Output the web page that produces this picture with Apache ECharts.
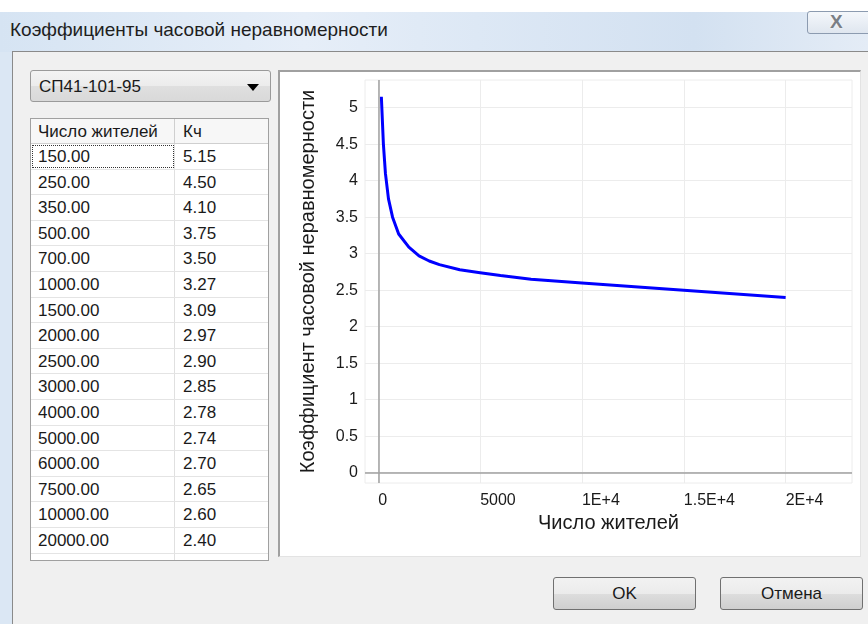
<!DOCTYPE html>
<html>
<head>
<meta charset="utf-8">
<title>Коэффициенты часовой неравномерности</title>
<script src="https://cdn.jsdelivr.net/npm/echarts@6/dist/echarts.min.js"></script>
<style>
  html, body { margin: 0; padding: 0; }
  body { width: 868px; height: 624px; position: relative; overflow: hidden;
         font-family: 'Liberation Sans', Arial, sans-serif; color: #1a1a1a; background: #dbe7f4; }
  .topstrip { position: absolute; left: 0; top: 0; width: 868px; height: 12px; background: #fff; }
  .titlebar { position: absolute; left: 0; top: 12px; width: 868px; height: 40px;
              background: linear-gradient(to right, #d6e4f3 0%, #e6eef8 35%, #dde8f5 55%, #d3e1f1 80%, #e4ecf6 100%); }
  .title { position: absolute; left: 10px; top: 19px; font-size: 19px; color: #1e1e1e; }
  .closebtn { position: absolute; left: 807px; top: 11px; width: 70px; height: 23px;
              border: 1px solid #8c9bb0; border-radius: 3px; box-sizing: border-box;
              background: linear-gradient(#f4f7fb, #dfe6ef); }
  .closebtn span { position: absolute; left: 22px; top: -1px; font-size: 19px; font-weight: bold;
                   color: #7a7f86; text-shadow: 0 0 2px #fff; }
  .dialog { position: absolute; left: 12px; top: 51px; width: 870px; height: 590px;
            background: #f0f0f0; border-left: 1px solid #8a8a8a; border-top: 1px solid #8a8a8a; }
  .combo { position: absolute; left: 30px; top: 70px; width: 241px; height: 32px; box-sizing: border-box;
           border: 1px solid #9a9a9a; border-radius: 3px;
           background: linear-gradient(#f3f3f3 0%, #ececec 50%, #dfdfdf 51%, #d9d9d9 100%); }
  .combo .txt { position: absolute; left: 8px; top: 6px; font-size: 17px; }
  .combo .arr { position: absolute; right: 11px; top: 13px; width: 0; height: 0;
                border-left: 6px solid transparent; border-right: 6px solid transparent; border-top: 7px solid #000; }
  .grid { position: absolute; left: 30px; top: 118px; width: 239px; height: 443px; box-sizing: border-box;
          border: 1px solid #a0a0a0; background: #fff; overflow: hidden; }
  .row { position: absolute; left: 0; width: 237px; height: 25.6px; border-bottom: 1px solid #e4e4e4; box-sizing: border-box; }
  .row.head { background: #f7f7f7; border-bottom: 1px solid #cfcfcf; height: 25px; }
  .cell { position: absolute; top: 0; height: 100%; line-height: 25px; font-size: 17px; box-sizing: border-box; }
  .c1 { left: 0; width: 144px; padding-left: 7px; border-right: 1px solid #e0e0e0; }
  .row.head .c1 { border-right: 1px solid #cfcfcf; }
  .c2 { left: 144px; width: 93px; padding-left: 8px; }
  .focus { outline: 1px dotted #333; outline-offset: -2px; }
  .panel { position: absolute; left: 278px; top: 70px; width: 583px; height: 487px; box-sizing: border-box;
           border-left: 2px solid #a0a0a0; border-top: 2px solid #a0a0a0;
           border-right: 1px solid #e3e3e3; border-bottom: 1px solid #e3e3e3; background: #fff; }
  #chart { width: 580px; height: 484px; }
  .btn { position: absolute; top: 577px; height: 33px; box-sizing: border-box; border: 1px solid #707070; border-radius: 3px;
         background: linear-gradient(#f2f2f2 0%, #ebebeb 50%, #dddddd 51%, #cfcfcf 100%);
         text-align: center; line-height: 31px; font-size: 17px; }
</style>
</head>
<body>
<div class="topstrip"></div>
<div class="titlebar"></div>
<div class="title">Коэффициенты часовой неравномерности</div>
<div class="closebtn"><span>X</span></div>
<div class="dialog"></div>

<div class="combo"><span class="txt">СП41-101-95</span><span class="arr"></span></div>
<div class="grid" id="table"></div>

<div class="panel"><div id="chart"></div></div>

<div class="btn" style="left:553px;width:143px;">OK</div>
<div class="btn" style="left:720px;width:143px;">Отмена</div>

<script type="text/javascript">
    // данные таблицы (СП41-101-95)
    var residents = [150, 250, 350, 500, 700, 1000, 1500, 2000, 2500, 3000, 4000, 5000, 6000, 7500, 10000, 20000];
    var kh = [5.15, 4.50, 4.10, 3.75, 3.50, 3.27, 3.09, 2.97, 2.90, 2.85, 2.78, 2.74, 2.70, 2.65, 2.60, 2.40];

    var xTickValues = [0, 5000, 10000, 15000, 20000];
    var xTickLabels = ['0', '5000', '1E+4', '1.5E+4', '2E+4'];
    var yTickValues = [0, 0.5, 1, 1.5, 2, 2.5, 3, 3.5, 4, 4.5, 5];
    var yTickLabels = ['0', '0.5', '1', '1.5', '2', '2.5', '3', '3.5', '4', '4.5', '5'];

    // таблица слева
    var table = document.getElementById('table');
    var html = '<div class="row head" style="top:0"><div class="cell c1">Число жителей</div><div class="cell c2">Кч</div></div>';
    for (var i = 0; i <= residents.length; i++) {
        var rowTop = 25 + i * 25.6;
        var a = i < residents.length ? residents[i].toFixed(2) : '';
        var b = i < residents.length ? kh[i].toFixed(2) : '';
        html += '<div class="row" style="top:' + rowTop + 'px"><div class="cell c1' + (i === 0 ? ' focus' : '') + '">' + a +
            '</div><div class="cell c2">' + b + '</div></div>';
    }
    table.innerHTML = html;

    var points = [];
    for (var j = 0; j < residents.length; j++) {
        points.push([residents[j], kh[j]]);
    }

    var myChart = echarts.init(document.getElementById('chart'));
    var labelFont = { fontFamily: 'Liberation Sans', fontSize: 16, color: '#1a1a1a' };
    var option = {
        animation: false,
        grid: {
            left: 85, top: 8, width: 487, height: 403,
            show: true, borderColor: '#ececec', borderWidth: 1, backgroundColor: '#fff'
        },
        xAxis: {
            type: 'value',
            min: -653,
            max: 23258,
            name: 'Число жителей',
            nameLocation: 'middle',
            nameGap: 27,
            nameTextStyle: { fontFamily: 'Liberation Sans', fontSize: 20, color: '#1a1a1a' },
            axisLine: { show: false },
            axisTick: { show: false, customValues: xTickValues },
            axisLabel: Object.assign({
                customValues: xTickValues,
                align: 'left',
                margin: 10,
                formatter: function (v) {
                    var k = xTickValues.indexOf(v);
                    return k >= 0 ? xTickLabels[k] : '';
                }
            }, labelFont),
            splitLine: { show: true, lineStyle: { color: '#ececec', width: 1 } }
        },
        yAxis: {
            type: 'value',
            min: -0.141,
            max: 5.379,
            name: 'Коэффициент часовой неравномерности',
            nameLocation: 'middle',
            nameRotate: 90,
            nameGap: 47,
            nameTextStyle: { fontFamily: 'Liberation Sans', fontSize: 20, color: '#1a1a1a' },
            axisLine: { show: false },
            axisTick: { show: false, customValues: yTickValues },
            axisLabel: Object.assign({
                customValues: yTickValues,
                margin: 7,
                formatter: function (v) {
                    var k = yTickValues.indexOf(v);
                    return k >= 0 ? yTickLabels[k] : '';
                }
            }, labelFont),
            splitLine: { show: true, lineStyle: { color: '#ececec', width: 1 } }
        },
        series: [{
            type: 'line',
            data: points,
            showSymbol: false,
            lineStyle: { color: '#0000ff', width: 3 },
            markLine: {
                silent: true,
                symbol: 'none',
                label: { show: false },
                lineStyle: { color: '#a0a0a0', width: 1.5, type: 'solid' },
                data: [{ xAxis: 0 }, { yAxis: 0 }]
            }
        }]
    };
    myChart.setOption(option);
</script>
</body>
</html>
